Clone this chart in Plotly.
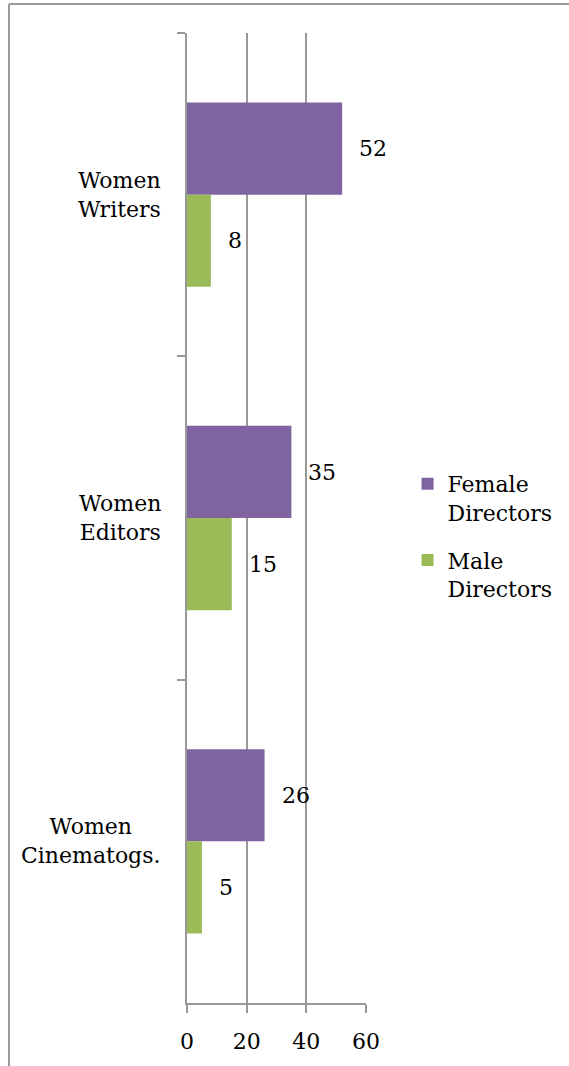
import plotly.graph_objects as go

categories = ["Women Writers", "Women Editors", "Women Cinematogs."]
category_labels = ["Women<br>Writers", "Women<br>Editors", "Women<br>Cinematogs."]
female_values = [52, 35, 26]
male_values = [8, 15, 5]
series_names = ["Female<br>Directors", "Male<br>Directors"]
x_ticks = [0, 20, 40, 60]

PURPLE = "#8064A2"
GREEN = "#9BBB59"
GRID = "#989898"
FONT = "DejaVu Serif"
FS = 22

W, H = 569, 1066
L, R, T, B = 187, 201, 33, 63
pw, ph = W - L - R, H - T - B

fig = go.Figure()
fig.add_trace(go.Bar(y=categories, x=female_values, orientation="h", name=series_names[0],
                     marker=dict(color=PURPLE, line=dict(width=0)), legendgroup="f"))
fig.add_trace(go.Bar(y=categories, x=male_values, orientation="h", name=series_names[1],
                     marker=dict(color=GREEN, line=dict(width=0)), legendgroup="m"))

annotations = []
for c, v in zip(categories, female_values):
    annotations.append(dict(x=v, y=c, xref="x", yref="y", text=str(v), showarrow=False,
                            xanchor="left", yanchor="middle", xshift=15, yshift=46,
                            font=dict(family=FONT, size=FS, color="black")))
for c, v in zip(categories, male_values):
    annotations.append(dict(x=v, y=c, xref="x", yref="y", text=str(v), showarrow=False,
                            xanchor="left", yanchor="middle", xshift=15, yshift=-46,
                            font=dict(family=FONT, size=FS, color="black")))
for c, lab in zip(categories, category_labels):
    annotations.append(dict(x=0, y=c, xref="paper", yref="y", text=lab, showarrow=False,
                            xanchor="right", yanchor="middle", xshift=-24, align="center",
                            font=dict(family=FONT, size=FS, color="black")))

# outer border (top and left edges)
bx = (7 - L) / pw
by = (H - B - 4) / ph
shapes = [
    dict(type="line", xref="paper", yref="paper", x0=bx, x1=(W + 10 - L) / pw, y0=by, y1=by,
         line=dict(color="#9a9a9a", width=2)),
    dict(type="line", xref="paper", yref="paper", x0=bx, x1=bx, y0=by, y1=(H - B - H - 10) / ph,
         line=dict(color="#9a9a9a", width=2)),
]

fig.update_layout(
    width=W, height=H,
    margin=dict(l=L, r=R, t=T, b=B),
    paper_bgcolor="white", plot_bgcolor="white",
    barmode="group", bargap=0.43, bargroupgap=0,
    font=dict(family=FONT, size=FS, color="black"),
    showlegend=True,
    legend=dict(x=(410 - L) / pw, y=(H - B - 463) / ph, xanchor="left", yanchor="top",
                traceorder="grouped", tracegroupgap=16, valign="top",
                font=dict(family=FONT, size=FS, color="black"),
                bgcolor="rgba(0,0,0,0)"),
    annotations=annotations,
    shapes=shapes,
)
fig.update_xaxes(range=[0, 60], tickvals=x_ticks, ticktext=[str(t) for t in x_ticks],
                 showgrid=True, gridcolor=GRID, gridwidth=1.5,
                 showline=True, linecolor=GRID, linewidth=1.5,
                 ticks="outside", ticklen=8, tickcolor=GRID, tickwidth=1.5,
                 ticklabelstandoff=10, zeroline=False,
                 tickfont=dict(family=FONT, size=FS, color="black"))
fig.update_yaxes(autorange="reversed", showline=True, linecolor=GRID, linewidth=1.5,
                 ticks="outside", ticklen=8, tickcolor=GRID, tickwidth=1.5,
                 tickson="boundaries", showticklabels=False, showgrid=False, zeroline=False)

fig.write_html("out.html", config={"displayModeBar": False},
               post_script="document.body.style.margin='0px';document.body.style.overflow='hidden';")
